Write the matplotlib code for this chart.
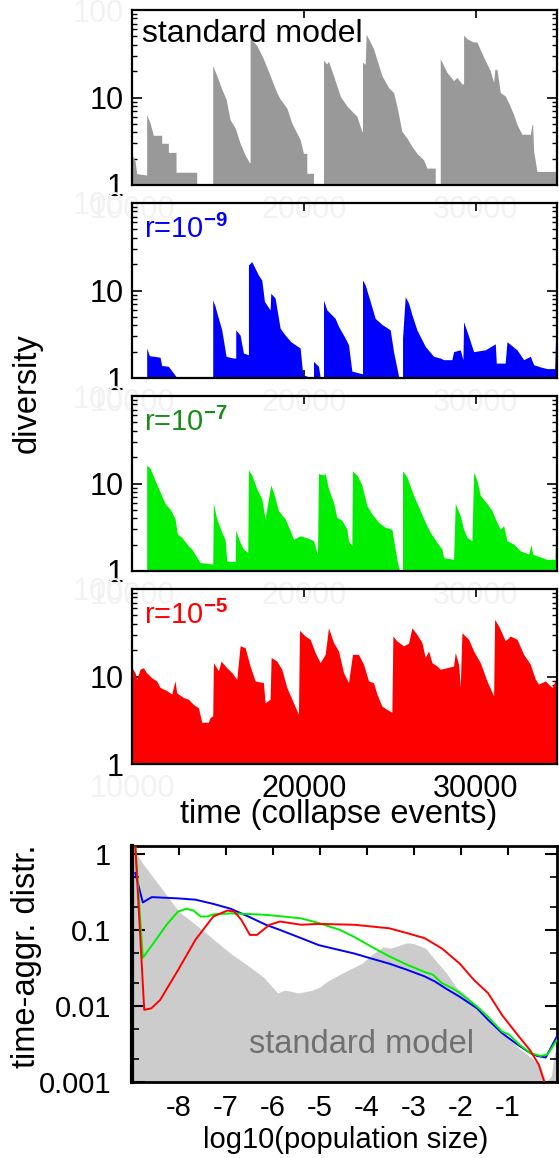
import matplotlib
matplotlib.use('Agg')
import matplotlib.pyplot as plt
import numpy as np
from matplotlib.ticker import LogLocator, NullFormatter

plt.rcParams['font.family'] = ['Liberation Sans', 'DejaVu Sans']
plt.rcParams['mathtext.fontset'] = 'custom'
plt.rcParams['mathtext.rm'] = 'Liberation Sans'
plt.rcParams['mathtext.bf'] = 'Liberation Sans:bold'

# ---------------- data: diversity time series ----------------
grey_time = [10000, 10175, 10272, 10854, 10854, 11048, 11242, 11727, 11727, 12115, 12115, 12561, 12561, 13764, 13764,
             14695, 14695, 14928, 15219, 15471, 15704, 15995, 16286, 16577, 16830, 16868, 16868, 17256, 17644, 18032,
             18420, 18614, 19002, 19293, 19778, 19972, 20166, 20166, 20554, 20554, 21136, 21136, 21330, 21427, 21718,
             22106, 22494, 22688, 23076, 23367, 23405, 23405, 23561, 23620, 24046, 24531, 24919, 25210, 25404, 25695,
             25986, 26277, 26568, 26956, 27150, 27635, 27635, 27926, 27926, 28314, 28702, 28896, 29187, 29284, 29284,
             29478, 29866, 30060, 30448, 30836, 31030, 31100, 31224, 31418, 31709, 31903, 32194, 32388, 32679, 33164,
             33261, 33300, 33358, 33552, 34716]
grey_div = [2.2, 1.9, 1.35, 1.3, 6.4, 5.1, 3.7, 3.7, 3.0, 3.0, 2.36, 2.36, 1.4, 1.4, 1.0,
            1.0, 23.2, 17.8, 12.5, 9.6, 5.6, 4.5, 3.0, 2.2, 1.8, 1.8, 47, 39.5, 27.6, 17.8,
            11.4, 9.6, 7.6, 5.1, 3.3, 2.3, 2.3, 1.36, 1.36, 1.0, 1.0, 26.5, 24.2, 26.0, 17.8,
            10.4, 8.0, 7.3, 6.1, 4.1, 4.1, 25.3, 24.0, 53, 36, 17.8, 13, 11.4, 8, 4.1,
            3.45, 2.77, 2.3, 1.94, 1.56, 1.56, 1.0, 1.0, 27.7, 19.4, 15.6, 17.0, 14.3, 14.3, 51.5,
            47, 43, 43, 29, 20.2, 14.9, 21, 21, 11.4, 10.4, 8.7, 6.4, 4.9, 3.8, 3.8,
            4.9, 4.9, 2.44, 1.43, 1.43]

blue_time = [10000, 10854, 10854, 11009, 11630, 11727, 12115, 12561, 13279, 13279, 14695, 14695, 14831, 15025, 15219,
             15471, 15898, 16033, 16033, 16286, 16480, 16732, 16771, 16771, 16965, 17159, 17353, 17547, 17702, 18032,
             18070, 18323, 18614, 18905, 19234, 19778, 19933, 20360, 20554, 20554, 20845, 20942, 21136, 21136, 21330,
             21524, 21815, 22009, 22397, 22591, 22785, 23367, 23405, 23405, 23561, 23852, 24143, 24531, 25016, 25210,
             25501, 25733, 25733, 25889, 26083, 26277, 26568, 27053, 27538, 27926, 28120, 28600, 28702, 29090, 29245,
             29284, 29575, 29866, 30545, 31127, 31185, 31700, 31806, 32388, 32776, 33164, 33358, 33746, 34134, 34580,
             34638, 34716]
blue_div = [1.02, 1.02, 2.2, 1.8, 1.73, 1.39, 1.36, 1.04, 1.02, 1.0, 1.0, 7.8, 6.6, 4.8, 3.55,
            1.77, 1.69, 1.69, 3.55, 3.1, 1.93, 1.85, 1.85, 19.6, 21.4, 17.9, 15, 13.2, 7.5, 6.0,
            9.3, 8.2, 3.7, 3.1, 2.6, 2.2, 1.09, 1.02, 1.0, 1.55, 1.36, 1.02, 1.02, 7.8, 6.0,
            5.5, 4.8, 3.9, 2.86, 2.4, 1.2, 1.12, 1.12, 13.2, 11.6, 7.5, 4.8, 4.1, 3.55, 2.0,
            1.05, 1.0, 2.86, 8.5, 7.2, 5.3, 3.55, 2.3, 1.77, 1.69, 1.62, 1.62, 2.0, 2.1, 1.62,
            4.4, 3.0, 2.0, 2.1, 2.46, 1.48, 1.48, 2.6, 2.1, 1.62, 1.77, 1.42, 1.34, 1.28, 1.28,
            3.0, 3.0]

green_time = [10000, 10854, 10854, 11048, 11339, 11630, 11921, 12212, 12503, 12638, 12891, 13279, 13473, 13958, 14695,
              14734, 14928, 15219, 15413, 15510, 16000, 16033, 16286, 16480, 16732, 16771, 16965, 17256, 17547, 17741,
              18070, 18226, 18517, 18905, 19196, 19390, 19778, 20166, 20554, 20786, 20845, 21136, 21233, 21427, 21718,
              21912, 22203, 22494, 22591, 22785, 22823, 23076, 23367, 23658, 23949, 24337, 24725, 25113, 25210, 25404,
              25539, 25733, 25733, 25986, 26374, 26762, 27053, 27344, 27732, 28023, 28120, 28702, 28799, 29090, 29284,
              29478, 29769, 29866, 30060, 30254, 30642, 30933, 31127, 31418, 31612, 31806, 32194, 32582, 33067, 33202,
              33299, 33552, 34134, 34600, 34638, 34716]
green_div = [1.02, 1.02, 16.3, 14.9, 10.9, 8.0, 5.9, 5.1, 3.95, 2.65, 2.42, 1.94, 1.78, 1.25, 1.2,
             5.9, 3.95, 2.77, 2.3, 1.3, 1.28, 2.9, 2.12, 1.78, 1.63, 14.3, 12.5, 8.7, 6.7, 3.95,
             9.6, 8.0, 4.9, 3.95, 2.9, 2.3, 2.53, 2.4, 2.22, 1.56, 13.0, 12.5, 13.0, 8.7, 6.1,
             4.1, 3.8, 3.0, 2.22, 1.94, 13.9, 12.5, 9.6, 5.6, 4.5, 3.6, 3.16, 3.0, 2.3, 1.36,
             1.04, 1.04, 13.9, 11.9, 7.3, 4.9, 3.6, 2.77, 2.12, 1.78, 1.42, 1.36, 5.9, 4.3, 3.0,
             2.42, 2.22, 13.4, 10.9, 7.3, 5.9, 4.9, 3.95, 3.0, 3.3, 2.22, 2.03, 1.7, 1.56, 2.0,
             1.56, 1.49, 1.36, 1.36, 2.53, 2.53]

red_time = [10000, 10175, 10272, 10466, 10660, 10854, 11145, 11436, 11630, 12018, 12309, 12503, 12600, 12697, 12988,
            13279, 13570, 13861, 14055, 14443, 14540, 14695, 14734, 15025, 15180, 15510, 15801, 16092, 16286, 16577,
            16868, 17159, 17644, 17741, 18032, 18090, 18420, 18711, 19002, 19390, 19681, 19739, 20069, 20360, 20651,
            20942, 21233, 21427, 21718, 22009, 22300, 22591, 22823, 23173, 23464, 23755, 24046, 24240, 24531, 24822,
            25113, 25171, 25404, 25792, 26083, 26277, 26568, 26859, 27053, 27247, 27441, 27732, 27926, 28314, 28702,
            28799, 28993, 29090, 29187, 29575, 29866, 30254, 30642, 31030, 31088, 31321, 31709, 32000, 32388, 32776,
            33164, 33455, 33649, 34037, 34425, 34619, 34716]
red_div = [12.6, 11.1, 9.3, 12.1, 12.6, 11.0, 9.7, 8.9, 7.5, 6.9, 6.3, 8.9, 6.5, 6.3, 5.76,
           5.5, 4.8, 4.4, 3.0, 3.0, 3.4, 3.55, 14.4, 11.6, 15.0, 12.6, 11.1, 9.3, 22.4, 21.4,
           13.2, 8.9, 8.5, 5.0, 5.5, 16.5, 15.0, 12.1, 7.5, 5.0, 3.7, 33.7, 29.0, 26.6, 18.8,
           14.4, 17.9, 36.0, 24.5, 19.6, 11.1, 8.5, 17.9, 17.9, 13.8, 8.9, 8.5, 6.3, 4.6, 4.2,
           3.9, 29.0, 25.5, 22.4, 24.0, 36.0, 30.3, 24.5, 16.5, 19.6, 14.4, 13.2, 12.1, 12.6, 13.2,
           18.8, 13.8, 7.5, 31.6, 26.6, 19.6, 14.4, 8.9, 6.0, 45.0, 37.9, 25.5, 29.0, 26.6, 17.9,
           13.8, 9.3, 8.2, 8.9, 7.5, 8.9, 8.9]

panel_labels = ['standard model', r'r=10$^{\mathbf{-9}}$', r'r=10$^{\mathbf{-7}}$', r'r=10$^{\mathbf{-5}}$']
time_ticks = [10000, 20000, 30000]
time_tick_labels = ['10000', '20000', '30000']
div_ticks = [1, 10, 100]
div_tick_labels = ['1', '10', '100']

# ---------------- data: time-aggregated distributions ----------------
std_logsize = [-9.0, -8.9, -8.8, -8.4, -8.0, -7.6, -7.25, -6.9, -6.5, -6.2, -6.0, -5.9, -5.75, -5.6, -5.45, -5.15,
               -5.0, -4.85, -4.65, -4.4, -4.1, -3.9, -3.65, -3.5, -3.3, -3.15, -3.0, -2.75, -2.55, -2.3, -2.1,
               -1.85, -1.65, -1.4, -1.1, -0.8, -0.5, -0.3, -0.18, -0.07, -0.02, 0.05]
std_dist = [1.26, 1.0, 0.79, 0.37, 0.174, 0.112, 0.074, 0.049, 0.033, 0.024, 0.0174, 0.0148, 0.0162, 0.0155, 0.0148,
            0.0162, 0.0178, 0.0209, 0.0245, 0.0295, 0.0363, 0.0468, 0.060, 0.0575, 0.063, 0.0676, 0.066, 0.0575,
            0.0407, 0.0269, 0.0178, 0.0132, 0.0098, 0.0066, 0.0044, 0.0029, 0.0021, 0.0016, 0.001, 0.0012, 0.0021,
            0.0032]

r9_logsize = [-8.93, -8.77, -8.58, -8.02, -7.65, -7.27, -6.9, -6.52, -6.15, -5.85, -5.4, -5.02, -4.27, -3.9,
              -3.52, -3.15, -2.77, -2.55, -2.32, -2.02, -1.65, -1.42, -1.12, -0.82, -0.52, -0.37, -0.19, 0.05]
r9_dist = [0.56, 0.23, 0.27, 0.26, 0.25, 0.22, 0.19, 0.15, 0.117, 0.1, 0.078, 0.063, 0.049, 0.042,
           0.036, 0.030, 0.0245, 0.021, 0.017, 0.0132, 0.0093, 0.0066, 0.0044, 0.0032, 0.0024, 0.0022, 0.0021, 0.0040]

r7_logsize = [-8.93, -8.77, -8.55, -8.25, -8.02, -7.84, -7.69, -7.54, -7.4, -7.27, -6.9, -6.52, -6.15, -5.77,
              -5.4, -5.02, -4.57, -4.27, -3.9, -3.52, -3.15, -2.77, -2.59, -2.4, -2.17, -2.02, -1.65, -1.42,
              -1.12, -0.97, -0.75, -0.52, -0.3, -0.15, 0.05]
r7_dist = [1.3, 0.043, 0.066, 0.12, 0.174, 0.19, 0.18, 0.15, 0.15, 0.16, 0.165, 0.162, 0.158, 0.15,
           0.142, 0.123, 0.1, 0.081, 0.06, 0.045, 0.035, 0.028, 0.0257, 0.02, 0.017, 0.0148, 0.0098, 0.0072,
           0.0046, 0.0042, 0.0031, 0.0024, 0.0022, 0.0023, 0.0036]

r5_logsize = [-8.93, -8.74, -8.59, -8.4, -8.02, -7.65, -7.27, -6.97, -6.82, -6.67, -6.49, -6.34, -6.07, -5.85,
              -5.7, -5.4, -5.02, -4.27, -3.52, -3.15, -2.77, -2.4, -2.02, -1.72, -1.42, -1.12, -0.82, -0.52,
              -0.34, -0.22, -0.15]
r5_dist = [1.3, 0.0089, 0.0093, 0.012, 0.0296, 0.074, 0.15, 0.18, 0.174, 0.135, 0.086, 0.086, 0.117, 0.129,
           0.125, 0.117, 0.12, 0.117, 0.105, 0.091, 0.078, 0.057, 0.036, 0.022, 0.0148, 0.0076, 0.0044, 0.0026,
           0.0017, 0.001, 0.0007]

size_ticks = [-8, -7, -6, -5, -4, -3, -2, -1]
size_tick_labels = ['-8', '-7', '-6', '-5', '-4', '-3', '-2', '-1']
dist_ticks = [1, 0.1, 0.01, 0.001]
dist_tick_labels = ['1', '0.1', '0.01', '0.001']

# ---------------- figure ----------------
W, H = 559, 1158
fig = plt.figure(figsize=(W / 100, H / 100), dpi=100)


def px_axes(l, t, r, b):
    return fig.add_axes([l / W, 1 - b / H, (r - l) / W, (b - t) / H])


GHOST = '#f2f2f2'
series = [(grey_time, grey_div, '#999999', 'black'),
          (blue_time, blue_div, '#0000ff', '#0000ff'),
          (green_time, green_div, '#00ee00', '#1a8c1a'),
          (red_time, red_div, '#ff0000', '#ff0000')]
tops = [10, 203, 396, 589]
for i, (t, v, col, tcol) in enumerate(series):
    ax = px_axes(132, tops[i], 557, tops[i] + 175)
    ax.patch.set_visible(False)
    ax.fill_between(t, v, 1, color=col, linewidth=0, zorder=1)
    ax.set_yscale('log')
    ax.set_ylim(1, 100)
    ax.set_xlim(10000, 34716)
    ax.set_axisbelow(True)
    ax.set_yticks(div_ticks, div_tick_labels)
    ax.get_yticklabels()[2].set_color(GHOST)
    ax.yaxis.set_minor_locator(LogLocator(base=10, subs=np.arange(2, 10)))
    ax.yaxis.set_minor_formatter(NullFormatter())
    ax.set_xticks(time_ticks, time_tick_labels)
    for j, lab in enumerate(ax.get_xticklabels()):
        if i < 3 or j == 0:
            lab.set_color(GHOST)
            lab.set_zorder(0)
    ax.tick_params(which='both', direction='in', left=True, right=True, top=True, bottom=True,
                   labelsize=22)
    ax.tick_params(axis='y', which='major', length=7, width=1.2, pad=6)
    ax.tick_params(axis='y', which='minor', length=3.6, width=1)
    ax.tick_params(axis='x', which='major', length=6, width=1.2, pad=7)
    for s in ax.spines.values():
        s.set_linewidth(1.6)
    if i == 0:
        ax.text(0.024, 0.817, panel_labels[i], transform=ax.transAxes, fontsize=23,
                color=tcol, va='baseline', ha='left', zorder=5)
    else:
        ax.text(0.028, 0.80, panel_labels[i], transform=ax.transAxes, fontsize=21,
                color=tcol, va='baseline', ha='left', zorder=5)

fig.text(27 / W, 1 - 393 / H, 'diversity', rotation=90, fontsize=23.5, ha='center', va='center')
fig.text(339 / W, 1 - 815 / H, 'time (collapse events)', fontsize=23.5, ha='center', va='center')

# bottom panel
bx = px_axes(132, 846, 557, 1082)
bx.fill_between(std_logsize, std_dist, 1e-3, color='#cccccc', linewidth=0, zorder=1)
bx.plot(r9_logsize, r9_dist, color='#0000ff', lw=1.4, zorder=3)
bx.plot(r7_logsize, r7_dist, color='#00ee00', lw=1.4, zorder=3)
bx.plot(r5_logsize, r5_dist, color='#ff0000', lw=1.4, zorder=3)
bx.set_yscale('log')
bx.set_ylim(1e-3, 1.27)
bx.set_xlim(-9, 0.05)
bx.set_yticks(dist_ticks, dist_tick_labels)
bx.yaxis.set_minor_locator(LogLocator(base=10, subs=[2, 5]))
bx.yaxis.set_minor_formatter(NullFormatter())
bx.set_xticks(size_ticks, size_tick_labels)
bx.tick_params(which='both', direction='in', left=True, right=True, top=True, bottom=False,
               labelsize=21)
bx.tick_params(axis='y', which='major', length=9, width=1.5, pad=15)
bx.tick_params(axis='y', which='minor', length=5, width=1.2)
bx.tick_params(axis='x', which='major', length=6.5, width=1.5, pad=9)
for s in bx.spines.values():
    s.set_linewidth(2)
bx.spines['left'].set_linewidth(3)
bx.text(0.539, 0.157, 'standard model', transform=bx.transAxes, fontsize=23.5, color='#707070',
        ha='center', va='center', zorder=2)
fig.text(27 / W, 1 - 956 / H, 'time-aggr. distr.', rotation=90, fontsize=23.5, ha='center', va='center')
fig.text(346 / W, 1 - 1140 / H, 'log10(population size)', fontsize=21, ha='center', va='center')

fig.savefig('out.png', dpi=100)
